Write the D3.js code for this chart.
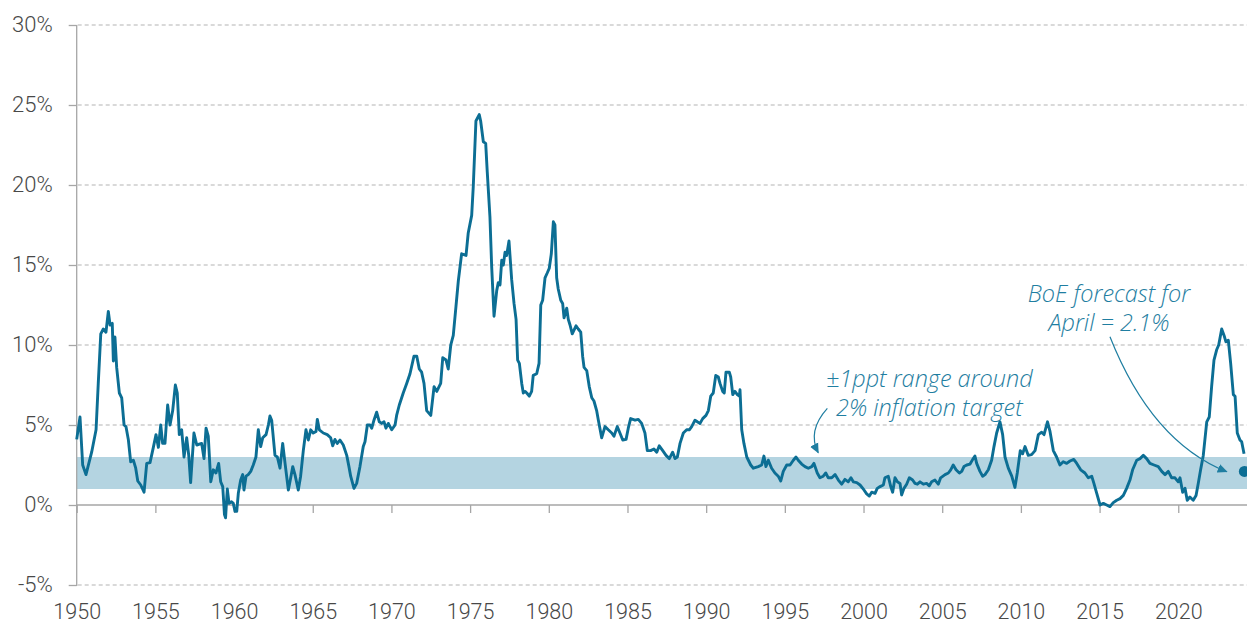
<!DOCTYPE html>
<html>
<head>
<meta charset="utf-8">
<script src="https://cdn.jsdelivr.net/npm/d3@7/dist/d3.min.js"></script>
<style>
  html, body { margin: 0; padding: 0; background: #fff; }
  svg { display: block; }
</style>
</head>
<body>
<svg id="chart" width="1247" height="624"></svg>
<script>
// ---------- DATA ----------
const years = [
  1950.00,1950.21,1950.38,1950.59,1950.95,1951.23,1951.37,1951.53,1951.69,1951.86,
  1952.01,1952.12,1952.26,1952.33,1952.43,1952.54,1952.71,1952.86,1953.01,1953.13,
  1953.28,1953.43,1953.60,1953.75,1953.88,1954.07,1954.28,1954.45,1954.66,1954.87,
  1955.04,1955.19,1955.34,1955.46,1955.61,1955.78,1955.93,1956.10,1956.27,1956.39,
  1956.52,1956.67,1956.82,1956.99,1957.12,1957.24,1957.45,1957.63,1957.94,1958.09,
  1958.22,1958.36,1958.52,1958.68,1958.85,1959.02,1959.15,1959.28,1959.39,1959.46,
  1959.57,1959.68,1959.84,1959.95,1960.06,1960.17,1960.27,1960.42,1960.55,1960.63,
  1960.76,1960.90,1961.06,1961.22,1961.39,1961.54,1961.69,1961.82,1962.03,1962.18,
  1962.28,1962.39,1962.60,1962.75,1962.92,1963.09,1963.24,1963.45,1963.60,1963.73,
  1963.87,1964.08,1964.23,1964.40,1964.57,1964.72,1964.87,1965.03,1965.21,1965.29,
  1965.42,1965.67,1965.92,1966.14,1966.27,1966.41,1966.56,1966.73,1966.94,1967.16,
  1967.30,1967.41,1967.62,1967.79,1968.00,1968.21,1968.32,1968.47,1968.64,1968.75,
  1968.89,1969.06,1969.23,1969.38,1969.53,1969.65,1969.80,1970.02,1970.23,1970.33,
  1970.50,1970.75,1970.97,1971.18,1971.43,1971.61,1971.77,1971.92,1972.07,1972.24,
  1972.50,1972.71,1972.88,1973.13,1973.26,1973.47,1973.61,1973.77,1973.93,1974.10,
  1974.25,1974.46,1974.74,1974.88,1975.10,1975.20,1975.37,1975.58,1975.67,1975.84,
  1975.99,1976.09,1976.26,1976.37,1976.52,1976.69,1976.79,1976.90,1977.01,1977.11,
  1977.22,1977.32,1977.47,1977.64,1977.79,1977.92,1978.02,1978.13,1978.28,1978.38,
  1978.49,1978.60,1978.76,1978.91,1979.01,1979.23,1979.38,1979.49,1979.61,1979.76,
  1979.90,1980.03,1980.16,1980.29,1980.39,1980.50,1980.60,1980.76,1980.88,1980.97,
  1981.14,1981.24,1981.35,1981.49,1981.73,1981.87,1982.03,1982.15,1982.24,1982.41,
  1982.57,1982.73,1982.87,1983.04,1983.15,1983.36,1983.57,1983.78,1984.00,1984.14,
  1984.35,1984.52,1984.70,1984.91,1985.05,1985.20,1985.48,1985.69,1985.90,1986.11,
  1986.26,1986.47,1986.68,1986.86,1987.02,1987.24,1987.45,1987.66,1987.87,1988.02,
  1988.17,1988.34,1988.55,1988.76,1988.93,1989.08,1989.29,1989.44,1989.61,1989.78,
  1989.99,1990.14,1990.29,1990.45,1990.61,1990.77,1990.88,1991.05,1991.15,1991.26,
  1991.47,1991.56,1991.69,1991.83,1991.98,1992.11,1992.15,1992.26,1992.40,1992.58,
  1992.83,1993.00,1993.31,1993.53,1993.67,1993.80,1993.95,1994.16,1994.37,1994.58,
  1994.74,1994.90,1995.12,1995.33,1995.54,1995.71,1995.85,1996.07,1996.28,1996.49,
  1996.71,1996.85,1997.06,1997.23,1997.44,1997.60,1997.76,1997.98,1998.19,1998.40,
  1998.61,1998.82,1999.03,1999.20,1999.35,1999.57,1999.78,2000.03,2000.20,2000.37,
  2000.52,2000.73,2000.87,2001.05,2001.26,2001.36,2001.57,2001.73,2001.85,2002.00,
  2002.15,2002.32,2002.42,2002.57,2002.74,2002.91,2003.12,2003.27,2003.42,2003.59,
  2003.80,2004.01,2004.18,2004.33,2004.54,2004.75,2004.90,2005.18,2005.39,2005.54,
  2005.70,2005.88,2006.09,2006.24,2006.38,2006.56,2006.77,2006.94,2007.08,2007.19,
  2007.40,2007.57,2007.72,2007.93,2008.14,2008.29,2008.46,2008.67,2008.84,2008.99,
  2009.20,2009.42,2009.62,2009.77,2009.96,2010.11,2010.26,2010.47,2010.68,2010.90,
  2011.11,2011.32,2011.47,2011.69,2011.85,2012.06,2012.27,2012.48,2012.69,2012.91,
  2013.12,2013.36,2013.55,2013.80,2014.07,2014.28,2014.50,2014.64,2014.82,2015.03,
  2015.24,2015.45,2015.66,2015.87,2016.09,2016.30,2016.51,2016.72,2016.93,2017.10,
  2017.36,2017.57,2017.78,2017.99,2018.20,2018.46,2018.73,2018.95,2019.16,2019.37,
  2019.58,2019.79,2020.00,2020.11,2020.28,2020.43,2020.57,2020.74,2020.95,2021.13,
  2021.27,2021.42,2021.59,2021.81,2021.97,2022.12,2022.27,2022.44,2022.57,2022.76,
  2022.91,2023.03,2023.18,2023.33,2023.50,2023.61,2023.75,2023.92,2024.03,2024.18
];
const cpi = [
  4.1,5.5,2.5,1.9,3.3,4.7,7.6,10.7,11.0,10.8,
  12.1,11.25,11.35,9.0,10.5,8.6,7.0,6.7,5.0,4.9,
  4.1,2.7,2.8,2.3,1.5,1.25,0.8,2.6,2.65,3.6,
  4.4,3.6,5.0,3.85,3.85,6.25,5.0,5.9,7.5,7.0,
  4.4,4.7,3.0,4.2,3.1,1.4,4.5,3.75,3.85,2.9,
  4.8,4.3,1.45,2.2,2.0,2.6,1.45,1.15,-0.6,-0.8,
  1.0,0.1,0.2,0.1,-0.4,-0.4,0.73,1.56,1.9,0.94,
  1.8,1.9,2.1,2.5,3.0,4.7,3.65,4.2,4.4,5.0,
  5.56,5.3,3.1,3.0,2.3,3.85,2.6,0.94,1.7,2.4,
  1.9,0.94,1.8,3.4,4.7,4.06,4.7,4.5,4.6,5.35,
  4.7,4.5,4.4,4.2,3.7,4.1,3.85,4.06,3.75,3.1,
  2.4,1.8,1.04,1.35,2.4,3.65,3.95,5.0,5.0,4.8,
  5.3,5.8,5.2,5.1,5.2,4.8,5.1,4.7,5.0,5.6,
  6.25,7.0,7.6,8.2,9.3,9.3,8.5,8.3,7.6,5.9,
  5.6,7.4,7.1,7.6,9.2,9.06,8.5,10.0,10.6,12.4,
  14.0,15.7,15.6,17.0,18.1,19.9,24.0,24.4,24.0,22.7,
  22.6,20.8,18.0,14.9,11.8,13.4,13.9,13.75,15.3,15.0,
  15.8,15.6,16.5,14.1,12.6,11.6,9.06,8.85,7.6,7.0,
  7.1,7.0,6.8,7.1,8.1,8.2,8.85,12.5,12.8,14.2,
  14.5,14.8,15.7,17.7,17.5,14.2,13.5,12.8,12.6,11.7,
  12.3,11.6,11.25,10.7,11.2,11.0,10.8,9.3,8.6,8.4,
  7.4,6.7,6.5,5.9,5.3,4.2,4.9,4.7,4.5,4.3,
  4.9,4.5,4.06,4.1,4.8,5.4,5.3,5.35,5.1,4.5,
  3.4,3.4,3.5,3.3,3.7,3.4,3.1,2.9,3.3,2.9,
  3.0,3.85,4.5,4.7,4.7,4.9,5.3,5.2,5.1,5.4,
  5.6,5.9,6.8,7.0,8.1,8.0,7.6,7.1,7.0,8.3,
  8.3,8.0,6.9,7.1,6.9,6.8,7.2,4.7,3.85,3.0,
  2.5,2.3,2.4,2.5,3.06,2.4,2.8,2.3,2.0,1.8,
  1.5,2.1,2.5,2.5,2.8,3.0,2.8,2.56,2.4,2.3,
  2.4,2.6,2.0,1.7,1.8,2.0,1.7,1.7,1.9,1.56,
  1.3,1.6,1.45,1.7,1.45,1.4,1.25,0.94,0.7,0.56,
  0.8,0.73,1.04,1.15,1.25,1.7,1.8,1.15,0.8,1.7,
  1.45,1.35,0.63,1.04,1.3,1.7,1.56,1.35,1.3,1.45,
  1.3,1.35,1.2,1.45,1.56,1.3,1.7,1.9,2.0,2.2,
  2.5,2.2,2.0,2.1,2.4,2.5,2.56,2.85,3.06,2.6,
  2.1,1.8,1.9,2.2,2.8,3.65,4.5,5.2,4.4,3.0,
  2.3,1.8,1.1,2.0,3.4,3.2,3.65,3.1,3.15,3.4,
  4.4,4.55,4.4,5.2,4.6,3.4,3.0,2.5,2.7,2.6,
  2.75,2.85,2.6,2.2,2.0,1.7,1.8,1.35,0.73,0.0,
  0.1,0.0,-0.1,0.15,0.3,0.4,0.6,1.04,1.56,2.2,
  2.8,2.9,3.1,2.9,2.6,2.5,2.4,2.1,1.9,2.1,
  1.7,1.7,1.45,1.7,0.8,1.04,0.3,0.5,0.3,0.6,
  1.35,2.2,3.1,5.2,5.5,7.4,9.06,9.7,10.0,11.0,
  10.6,10.2,10.3,8.85,6.9,6.8,4.5,4.06,3.95,3.2
];
const forecastYear = 2024.2;
const forecastValue = 2.1;
const targetBand = [1, 3];
const xTickYears = [1950,1955,1960,1965,1970,1975,1980,1985,1990,1995,2000,2005,2010,2015,2020];
const yTickValues = [-5,0,5,10,15,20,25,30];
const bandLabel = ["\u00B11ppt range around", "2% inflation target"];
const forecastLabel = ["BoE forecast for", "April = 2.1%"];

// ---------- CHART ----------
const svg = d3.select("#chart");
const W = 1247, H = 624;
const x = d3.scaleLinear().domain([1950, 2024.4]).range([76.7, 1247.5]);
const y = d3.scaleLinear().domain([-5, 30]).range([585, 25]);

const lineColor = "#0c6e94";
const textColor = "#1f7ea1";
const axisColor = "#a6a6a6";
const labelColor = "#484848";

// Gridlines (dashed) except 0%
svg.append("g").selectAll("line")
  .data(yTickValues.filter(v => v !== 0))
  .join("line")
  .attr("x1", x(1950) + 1).attr("x2", W)
  .attr("y1", d => y(d)).attr("y2", d => y(d))
  .attr("stroke", "#b3b3b3").attr("stroke-width", 1)
  .attr("stroke-dasharray", "4,3");

// Target band
svg.append("rect")
  .attr("x", x(1950)).attr("width", W - x(1950))
  .attr("y", y(targetBand[1])).attr("height", y(targetBand[0]) - y(targetBand[1]))
  .attr("fill", "#b4d4e1");

// Y axis
const yAxis = d3.axisLeft(y).tickValues(yTickValues).tickSize(8)
  .tickFormat(d => d + "%");
const gy = svg.append("g").attr("transform", `translate(${x(1950)},0)`).call(yAxis);
gy.select(".domain").attr("stroke", axisColor).attr("stroke-width", 1.3)
  .attr("d", `M0,${y(30)}V${y(-5) + 1}`);
gy.selectAll(".tick line").attr("stroke", axisColor).attr("stroke-width", 1.3);
gy.selectAll(".tick text")
  .attr("x", -24).attr("dy", "0.29em")
  .attr("fill", labelColor)
  .style("font-family", "Roboto, 'Liberation Sans', sans-serif")
  .style("font-weight", 300)
  .style("font-size", "22px");

// X axis at 0%
const xAxis = d3.axisBottom(x).tickValues(xTickYears).tickSize(8).tickFormat(d3.format("d"));
const gx = svg.append("g").attr("transform", `translate(0,${y(0)})`).call(xAxis);
gx.select(".domain").attr("stroke", axisColor).attr("stroke-width", 1.3)
  .attr("d", `M${x(1950)},0H${W}`);
gx.selectAll(".tick line").attr("stroke", axisColor).attr("stroke-width", 1.3);
gx.selectAll(".tick text")
  .attr("y", 0).attr("dy", 0)
  .attr("transform", `translate(0,${619 - y(0)})`)
  .attr("fill", labelColor)
  .style("font-family", "Roboto, 'Liberation Sans', sans-serif")
  .style("font-weight", 300)
  .style("font-size", "21.5px");

// CPI line
const series = years.map((yr, i) => ({ yr, v: cpi[i] }));
svg.append("path")
  .datum(series)
  .attr("fill", "none")
  .attr("stroke", lineColor)
  .attr("stroke-width", 2.9)
  .attr("stroke-linejoin", "round")
  .attr("d", d3.line().x(d => x(d.yr)).y(d => y(d.v)));

// Forecast dot
svg.append("circle")
  .attr("cx", x(forecastYear)).attr("cy", y(forecastValue))
  .attr("r", 5.5).attr("fill", lineColor);

// Arrow marker
const defs = svg.append("defs");
defs.append("marker")
  .attr("id", "arrow").attr("viewBox", "0 0 10 10")
  .attr("refX", 9).attr("refY", 5)
  .attr("markerWidth", 10).attr("markerHeight", 10)
  .attr("markerUnits", "userSpaceOnUse")
  .attr("orient", "auto")
  .append("path").attr("d", "M0,0.5L10,5L0,9.5Z").attr("fill", textColor);

// Annotation arrows (anchors in data units)
const arrows = [
  { s: [2015.66, 10.52], c: [2018.30, 3.97], e: [2023.08, 2.08] },
  { s: [1997.70, 6.04], c: [1996.41, 4.63], e: [1997.12, 3.27] }
];
svg.append("g").selectAll("path").data(arrows).join("path")
  .attr("d", a => `M${x(a.s[0])},${y(a.s[1])}Q${x(a.c[0])},${y(a.c[1])} ${x(a.e[0])},${y(a.e[1])}`)
  .attr("fill", "none").attr("stroke", textColor).attr("stroke-width", 1.2)
  .attr("marker-end", "url(#arrow)");

// Annotation text
function addLabel(lines, yr, val) {
  const t = svg.append("text")
    .attr("x", x(yr)).attr("y", y(val))
    .attr("text-anchor", "middle")
    .attr("fill", textColor)
    .style("font-family", "'Open Sans', Lato, sans-serif")
    .style("font-style", "italic")
    .style("font-weight", 300)
    .style("font-size", "23.5px");
  lines.forEach((l, i) => {
    t.append("tspan").attr("x", x(yr)).attr("dy", i === 0 ? 0 : 29).text(l);
  });
}
addLabel(bandLabel, 2004.18, 7.39);
addLabel(forecastLabel, 2015.6, 12.7);
</script>
</body>
</html>
